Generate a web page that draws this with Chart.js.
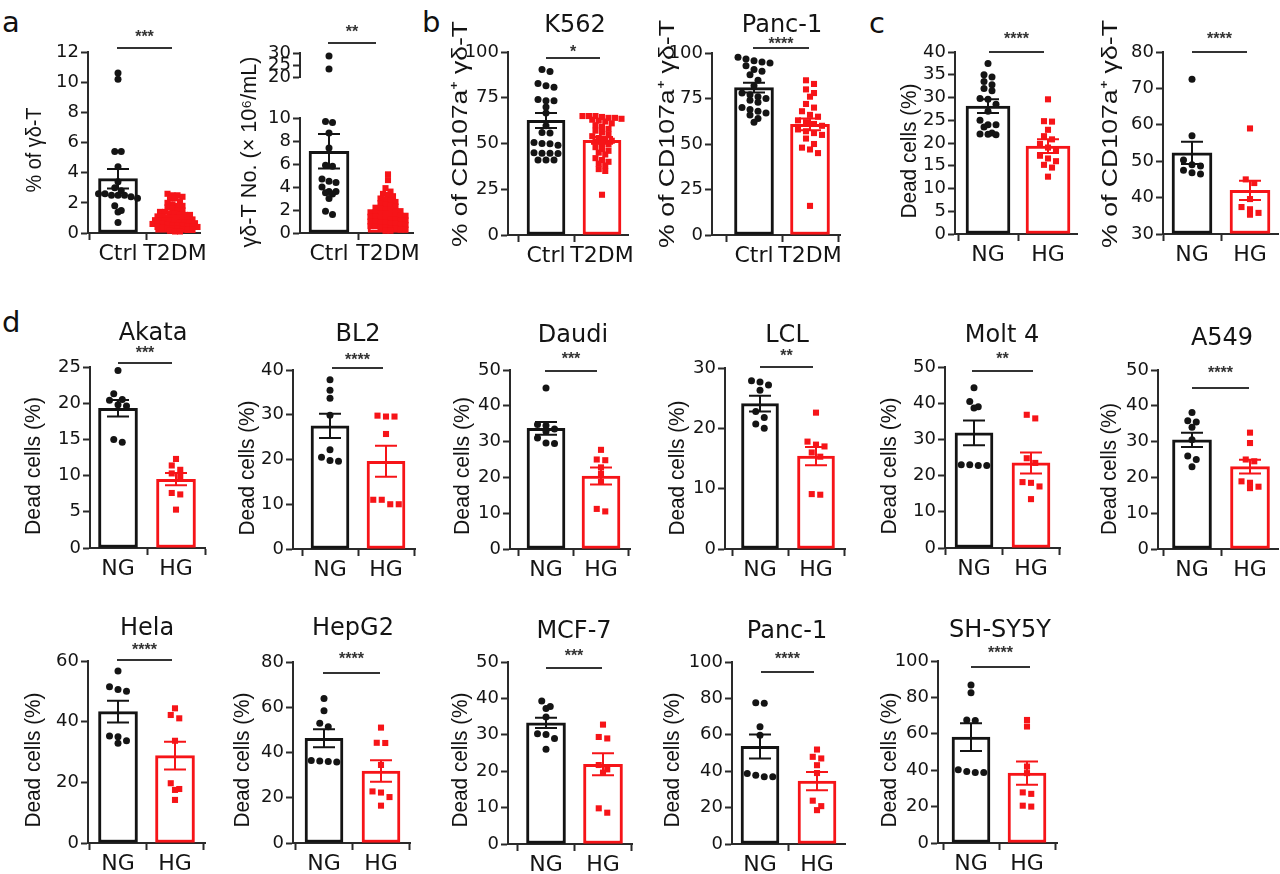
<!DOCTYPE html>
<html lang="en">
<head>
<meta charset="UTF-8">
<title>γδ-T cells and high glucose</title>
<script src="https://cdn.jsdelivr.net/npm/chart.js@4.4.1/dist/chart.umd.min.js"></script>
<style>
  body { margin: 0; background: #fff; }
  #fig { position: relative; width: 1280px; height: 874px; overflow: hidden; }
  #fig canvas { position: absolute; }
  .tag { position: absolute; font: 29px/1 "DejaVu Sans", sans-serif; color: #111; }
</style>
</head>
<body>
<div id="fig">
  <div class="tag" style="left:2px;top:8px">a</div>
  <div class="tag" style="left:422px;top:8px">b</div>
  <div class="tag" style="left:869px;top:9px">c</div>
  <div class="tag" style="left:2px;top:308px">d</div>
</div>
<script>
// ---- values ----
const catsTD = ['Ctrl', 'T2DM'];
const catsHG = ['NG', 'HG'];

// a: % of γδ-T / γδ-T count
const aPctCtrl = [10.6, 10.2, 5.4, 5.4, 4.4, 3.4, 3.0, 2.8, 2.6, 2.6, 2.5, 2.5, 2.5, 2.4, 2.3, 1.8, 1.5, 1.4, 0.7];
const aPctT2dm = [2.6, 2.5, 2.5, 2.4, 2.3, 2.3, 2.1, 2.0, 1.9, 1.8, 1.8, 1.7, 1.6, 1.5, 1.5, 1.4, 1.4, 1.3, 1.3, 1.2,
                  1.2, 1.2, 1.1, 1.1, 1.0, 1.0, 1.0, 0.95, 0.9, 0.9, 0.85, 0.8, 0.8, 0.8, 0.75, 0.7, 0.7, 0.7, 0.65, 0.6,
                  0.6, 0.6, 0.55, 0.5, 0.5, 0.5, 0.45, 0.4, 0.4, 0.4, 0.35, 0.3, 0.3, 0.3, 0.25, 0.2, 0.2, 0.15, 0.1, 0.1];
const aPctMean = [3.6, 1.05];
const aPctSem = [0.65, 0.08];

const aNumCtrl = [28.8, 23.4, 9.7, 9.6, 8.7, 7.4, 5.9, 5.8, 4.7, 4.5, 4.4, 4.0, 3.6, 3.6, 3.5, 3.4, 3.0, 1.9, 1.6];
const aNumT2dm = [5.1, 4.6, 3.9, 3.6, 3.4, 3.3, 3.2, 3.0, 2.9, 2.8, 2.7, 2.6, 2.5, 2.4, 2.3, 2.2, 2.1, 2.0, 2.0, 1.9,
                  1.9, 1.8, 1.8, 1.7, 1.7, 1.6, 1.6, 1.5, 1.5, 1.4, 1.4, 1.3, 1.3, 1.2, 1.2, 1.1, 1.1, 1.0, 1.0, 0.9,
                  0.9, 0.8, 0.8, 0.7, 0.7, 0.6, 0.6, 0.5, 0.5, 0.4, 0.4, 0.3, 0.3, 0.2, 0.2];
const aNumMean = [7.1, 1.7];
const aNumSem = [1.5, 0.15];

// b: CD107a+ γδ-T against K562 / Panc-1
const bK562Ctrl = [90.4, 89.4, 82.8, 81.5, 80.8, 74, 73.4, 73.4, 70, 66.6, 59.7, 56, 55.7, 50.5, 50, 49.8, 49, 45, 44.7, 44.7, 44.5, 41, 41, 41];
const bK562T2dm = [65, 65, 65, 64.5, 64, 64, 63.5, 63, 62.5, 62, 61, 60, 59, 58, 57, 56, 55, 54, 53, 52, 51.5, 51, 50, 49.5,
                   48, 47, 46, 45, 44, 42, 41, 40, 39, 38, 36, 35, 22];
const bK562Mean = [62.6, 51.7];
const bK562Sem = [4.1, 1.8];

const bPancCtrl = [97.6, 96.7, 95.8, 95, 94.5, 93, 91, 90, 88, 85, 82, 78, 77, 76, 75, 74, 73, 70, 69, 68, 67, 66, 64, 62];
const bPancT2dm = [85, 83, 80, 78, 76, 72, 70, 68, 66, 65, 63, 62, 61, 60, 58, 57, 56, 55, 53, 50, 48, 47, 45, 16];
const bPancMean = [81, 60.8];
const bPancSem = [2.7, 3.2];

// c: NG vs HG
const cDeadNG = [37.5, 35, 34.5, 33.5, 32.8, 32, 31.5, 29.8, 29.6, 28.5, 27, 25, 24, 24, 23.5, 22.2, 22, 21.9, 21.8];
const cDeadHG = [29.6, 24.8, 24.7, 22.9, 21.5, 20.8, 19.8, 19, 18.6, 17.2, 16.6, 16, 15.2, 14.6, 12.6];
const cDeadMean = [28.1, 19.3];
const cDeadSem = [1.5, 1.5];
const cCdNG = [72.5, 57, 50.3, 49, 48.7, 47.5, 46.8, 46.5];
const cCdHG = [59, 45, 44, 39.6, 37.4, 36.8, 35.8, 35.3];
const cCdMean = [52.3, 42];
const cCdSem = [3.05, 2.65];

// d: dead target cells per line
const dLines = ['Akata', 'BL2', 'Daudi', 'LCL', 'Molt 4', 'A549', 'Hela', 'HepG2', 'MCF-7', 'Panc-1', 'SH-SY5Y'];
const akataNG = [24.5, 21.3, 20.5, 20.4, 19.8, 19.6, 15, 14.6];
const akataHG = [12.3, 11.4, 10.8, 10.3, 9.9, 7.6, 7.4, 5.3];
const bl2NG = [37.8, 35.5, 33.7, 29.9, 22.2, 20.5, 19.8, 19.6];
const bl2HG = [29.8, 29.6, 29.6, 25.7, 11, 10, 10, 11];
const daudiNG = [45, 34.8, 34.5, 33.5, 32.8, 31, 29.6, 29.5];
const daudiHG = [27.7, 25, 24.8, 22.8, 21, 18.8, 11.2, 10.5];
const lclNG = [27.9, 27.7, 27.2, 26.3, 22.8, 21.8, 20.7, 20.0];
const lclHG = [22.6, 17.8, 17.3, 17, 16, 15.3, 9.1, 9.0];
const molt4NG = [44.3, 40.5, 39, 38.7, 23, 22.8, 22.8, 23];
const molt4HG = [36.8, 35.8, 24.8, 23.5, 18.2, 18, 17, 13.5];
const a549NG = [38.1, 35.8, 35.5, 34, 30.5, 26, 25, 23];
const a549HG = [32.5, 29.6, 25, 24.5, 18.9, 18.5, 17.4, 17];
const helaNG = [56.7, 51.5, 50.6, 50, 35.3, 35, 33.7, 32.9];
const helaHG = [44.4, 42.2, 41.1, 33.7, 19.7, 17.8, 17.5, 14.2];
const hepg2NG = [63.9, 58.4, 52.9, 51.4, 36.5, 36.2, 36, 35.8];
const hepg2HG = [51, 44.3, 44.2, 34.5, 22.8, 22.3, 20.3, 16.5];
const mcf7NG = [39.3, 37.8, 37.2, 34.9, 30.3, 30.1, 29, 26];
const mcf7HG = [32.8, 29.4, 29, 21.7, 20.5, 19.6, 9.8, 8.6];
const pancNG = [77.6, 77.4, 64.4, 59.8, 38.8, 37.8, 36.9, 36.9];
const pancHG = [51.9, 47.9, 47, 43.3, 39, 23.8, 20.8, 18.6];
const shsyNG = [86.8, 82.6, 67.6, 67.3, 40.2, 39.3, 38.8, 38.8];
const shsyHG = [67.6, 64, 42, 38.4, 27.8, 27, 20.5, 20];
const dMeanNG = [19.3, 27.5, 33.7, 24.1, 31.8, 30.5, 43.3, 46.3, 33.3, 53.6, 58.2];
const dMeanHG = [9.5, 19.6, 20.4, 15.4, 23.5, 23.0, 28.8, 31.8, 21.9, 34.6, 38.4];
const dSemNG = [1.15, 2.7, 1.8, 1.3, 3.4, 2.0, 3.6, 4.0, 1.4, 6.6, 7.6];
const dSemHG = [0.85, 3.45, 2.4, 1.5, 2.9, 1.9, 4.55, 4.75, 3.0, 5.0, 6.4];
const dMax = [25, 40, 50, 30, 50, 50, 60, 80, 50, 100, 100];
const dStep = [5, 10, 10, 10, 10, 10, 20, 20, 10, 20, 20];
const dStars = ['***', '****', '***', '**', '**', '****', '****', '****', '***', '****', '****'];

const yPct = '% of γδ-T';
const yNum = 'γδ-T No. (× 10⁶/mL)';
const yCd = '% of CD107a⁺ γδ-T';
const yDead = 'Dead cells (%)';

// ---- drawing ----
const INK = '#141414';
const AXIS = '#2a2a2a';
const RED = 'rgb(246,20,24)';
const PADL = 80, PADT = 62, PADB = 38, PADR = 10;
const fig = document.getElementById('fig');

Chart.defaults.font.family = '"DejaVu Sans", sans-serif';
Chart.defaults.color = INK;

// spread points of one group sideways in rows, like a Prism dot plot
function spread(chart, ds, g, gap, maxW) {
  const xs = chart.scales.x, ys = chart.scales.y;
  const cx = xs.getPixelForValue(g);
  const pts = chart.data.datasets[ds].data.slice().sort((a, b) => b.y - a.y);
  const perRow = Math.floor(maxW / gap) + 1;
  const rows = [];
  let row = [];
  pts.forEach(pt => {
    const py = ys.getPixelForValue(pt.y);
    if (row.length && (py - row[0].py > gap * 0.75 || row.length >= perRow)) {
      rows.push(row);
      row = [];
    }
    row.push({ pt, py });
  });
  if (row.length) rows.push(row);
  rows.forEach(r => r.forEach((o, j) => {
    o.pt.x = xs.getValueForPixel(cx + (j - (r.length - 1) / 2) * gap);
  }));
}

function decoPlugin(p, left, top) {
  return {
    id: 'deco',
    afterDatasetsDraw(chart) {
      const ctx = chart.ctx, xs = chart.scales.x, ys = chart.scales.y;
      ctx.save();
      // mean ± SEM
      if (p.mean) {
        p.mean.forEach((m, g) => {
          const x = xs.getPixelForValue(g);
          const y1 = ys.getPixelForValue(m + p.sem[g]);
          const y2 = ys.getPixelForValue(m - p.sem[g]);
          ctx.strokeStyle = g ? RED : INK;
          ctx.lineWidth = 2;
          ctx.beginPath();
          ctx.moveTo(x, y1); ctx.lineTo(x, y2);
          ctx.moveTo(x - 11, y1); ctx.lineTo(x + 11, y1);
          ctx.moveTo(x - 11, y2); ctx.lineTo(x + 11, y2);
          ctx.stroke();
        });
      }
      // significance bar
      if (p.sig) {
        const [stars, x0, x1, y, sy] = p.sig;
        ctx.strokeStyle = '#333';
        ctx.lineWidth = 2;
        ctx.beginPath();
        ctx.moveTo(x0 - left, y - top);
        ctx.lineTo(x1 - left, y - top);
        ctx.stroke();
        ctx.fillStyle = '#333';
        ctx.font = 'bold 16px "Liberation Sans", Arial, sans-serif';
        ctx.textAlign = 'center';
        ctx.textBaseline = 'alphabetic';
        ctx.fillText(stars, (x0 + x1) / 2 - left, sy + 9 - top);
      }
      // panel title
      if (p.title) {
        ctx.fillStyle = INK;
        ctx.font = '24px "DejaVu Sans", sans-serif';
        ctx.textAlign = 'center';
        ctx.textBaseline = 'alphabetic';
        ctx.fillText(p.title[0], p.title[1] - left, p.title[2] - top);
      }
      // y-axis title
      if (p.yt) {
        const [text, cx, cy, len] = p.yt;
        ctx.fillStyle = INK;
        ctx.font = '22px "Liberation Sans", Arial, sans-serif';
        ctx.translate(cx - left, cy - top);
        ctx.rotate(-Math.PI / 2);
        const w = ctx.measureText(text).width;
        ctx.scale(len / w, 1);
        ctx.textAlign = 'center';
        ctx.textBaseline = 'middle';
        ctx.fillText(text, 0, 0);
      }
      ctx.restore();
    }
  };
}

function drawPanel(p) {
  const showX = p.showX !== false;
  const left = p.ax - PADL, top = p.top - PADT;
  const w = p.right - p.ax + PADL + PADR;
  const h = p.bot - p.top + PADT + (showX ? PADB : 4);
  const cv = document.createElement('canvas');
  cv.width = w; cv.height = h;
  cv.style.left = left + 'px';
  cv.style.top = top + 'px';
  fig.appendChild(cv);

  const unit = p.c1 - p.c0;
  const xMin = -(p.c0 - p.ax) / unit;
  const xMax = (p.right - p.c0) / unit;

  const datasets = [
    { type: 'scatter', data: p.pts[0].map(v => ({ x: 0, y: v })), pointStyle: 'circle', pointRadius: 3.5,
      pointHoverRadius: 3.5, pointBackgroundColor: INK, pointBorderWidth: 0, order: 1, clip: false },
    { type: 'scatter', data: p.pts[1].map(v => ({ x: 1, y: v })), pointStyle: 'rect', pointRadius: 4.3,
      pointHoverRadius: 4.3, pointBackgroundColor: RED, pointBorderWidth: 0, order: 1, clip: false }
  ];
  if (p.mean) {
    datasets.push({ type: 'bar', data: p.mean.map((m, g) => ({ x: g, y: m })), backgroundColor: '#fff',
      borderColor: [INK, RED], borderWidth: 3, borderSkipped: false, barThickness: p.bw, base: p.min, order: 2 });
  }

  const chart = new Chart(cv, {
    type: 'bar',
    data: { datasets },
    options: {
      responsive: false,
      animation: false,
      events: [],
      layout: { autoPadding: false, padding: { left: 0, top: PADT, right: PADR, bottom: showX ? 0 : 4 } },
      plugins: { legend: { display: false }, tooltip: { enabled: false } },
      scales: {
        x: {
          type: 'linear', min: xMin, max: xMax, offset: false, display: showX,
          afterBuildTicks: s => { s.ticks = [{ value: 0 }, { value: 1 }]; },
          afterFit: s => { if (showX) s.height = PADB; },
          ticks: { callback: v => p.cats[v], font: { size: 22 }, padding: 1, maxRotation: 0, autoSkip: false, color: INK },
          grid: { drawOnChartArea: false, drawTicks: true, tickLength: 7, tickWidth: 2, tickColor: AXIS },
          border: { display: true, width: 2, color: AXIS }
        },
        y: {
          min: p.min, max: p.max,
          afterFit: s => { s.width = PADL; },
          ticks: { stepSize: p.step, font: { size: 18 }, padding: 2, autoSkip: false, color: INK },
          grid: { drawOnChartArea: false, drawTicks: true, tickLength: 7, tickWidth: 2, tickColor: AXIS },
          border: { display: true, width: 2, color: AXIS }
        }
      }
    },
    plugins: [decoPlugin(p, left, top)]
  });

  spread(chart, 0, 0, p.gap[0], p.bw + 6);
  spread(chart, 1, 1, p.gap[1], p.bw + 6);
  chart.update('none');
}

const panels = [
  { ax: 88, top: 52, bot: 233, right: 200, c0: 118, c1: 175, bw: 39, min: 0, max: 12, step: 2,
    cats: catsTD, pts: [aPctCtrl, aPctT2dm], mean: aPctMean, sem: aPctSem, gap: [6.5, 5],
    yt: [yPct, 35, 150, 85], sig: ['***', 117, 172, 48, 33] },
  { ax: 300, top: 53, bot: 86, right: 413, c0: 329, c1: 388, bw: 40, min: 20, max: 30, step: 5, showX: false,
    cats: catsTD, pts: [aNumCtrl.filter(v => v >= 20), aNumT2dm.filter(v => v >= 20)], gap: [7, 5],
    sig: ['**', 328, 376, 43, 28] },
  { ax: 300, top: 118, bot: 233, right: 413, c0: 329, c1: 388, bw: 40, min: 0, max: 10, step: 2,
    cats: catsTD, pts: [aNumCtrl.filter(v => v <= 10), aNumT2dm.filter(v => v <= 10)], mean: aNumMean, sem: aNumSem,
    gap: [7, 5], yt: [yNum, 250, 152, 191] },
  { ax: 508, top: 52, bot: 235, right: 628, c0: 546, c1: 602, bw: 38, min: 0, max: 100, step: 25,
    cats: catsTD, pts: [bK562Ctrl, bK562T2dm], mean: bK562Mean, sem: bK562Sem, gap: [8, 6.5],
    title: ['K562', 575, 32], yt: [yCd, 461, 134, 226], sig: ['*', 546, 600, 58, 48] },
  { ax: 712, top: 53, bot: 235, right: 840, c0: 754, c1: 810, bw: 39, min: 0, max: 100, step: 25,
    cats: catsTD, pts: [bPancCtrl, bPancT2dm], mean: bPancMean, sem: bPancSem, gap: [8, 8],
    title: ['Panc-1', 782, 32], yt: [yCd, 668, 134, 228], sig: ['****', 753, 809, 48, 40] },
  { ax: 955, top: 52, bot: 234, right: 1077, c0: 988, c1: 1048, bw: 44, min: 0, max: 40, step: 5,
    cats: catsHG, pts: [cDeadNG, cDeadHG], mean: cDeadMean, sem: cDeadSem, gap: [8, 8],
    yt: [yDead, 910, 151, 135], sig: ['****', 989, 1044, 52, 35] },
  { ax: 1163, top: 52, bot: 234, right: 1278, c0: 1192, c1: 1250, bw: 40, min: 30, max: 80, step: 10,
    cats: catsHG, pts: [cCdNG, cCdHG], mean: cCdMean, sem: cCdSem, gap: [8.5, 8.5],
    yt: [yCd, 1111, 134, 228], sig: ['****', 1192, 1247, 52, 35] }
];

const dPtsNG = [akataNG, bl2NG, daudiNG, lclNG, molt4NG, a549NG, helaNG, hepg2NG, mcf7NG, pancNG, shsyNG];
const dPtsHG = [akataHG, bl2HG, daudiHG, lclHG, molt4HG, a549HG, helaHG, hepg2HG, mcf7HG, pancHG, shsyHG];

// where each panel of d sits on the page
const dBoxes = [
  { ax: 90, top: 367, bot: 548, right: 205, c0: 118, c1: 176, bw: 39, t: [153, 340], yt: [34, 466, 138], sig: [118, 172, 363, 349] },
  { ax: 293, top: 370, bot: 549, right: 415, c0: 330, c1: 386, bw: 38, t: [358, 341], yt: [248, 468, 135], sig: [332, 383, 368, 356] },
  { ax: 510, top: 370, bot: 549, right: 630, c0: 546, c1: 601, bw: 38, t: [573, 342], yt: [463, 466, 138], sig: [545, 597, 371, 355] },
  { ax: 725, top: 368, bot: 549, right: 845, c0: 760, c1: 816, bw: 37, t: [787, 342], yt: [678, 468, 135], sig: [760, 813, 367, 352] },
  { ax: 945, top: 367, bot: 548, right: 1060, c0: 974, c1: 1031, bw: 38, t: [1002, 342], yt: [890, 466, 137], sig: [972, 1033, 371, 355] },
  { ax: 1158, top: 370, bot: 549, right: 1278, c0: 1192, c1: 1250, bw: 39, t: [1222, 345], yt: [1110, 469, 132], sig: [1192, 1249, 388, 369] },
  { ax: 88, top: 661, bot: 843, right: 205, c0: 118, c1: 175, bw: 39, t: [147, 635], yt: [34, 760, 135], sig: [117, 172, 660, 646] },
  { ax: 293, top: 662, bot: 843, right: 410, c0: 324, c1: 381, bw: 38, t: [353, 635], yt: [243, 760, 135], sig: [323, 380, 673, 655] },
  { ax: 508, top: 662, bot: 844, right: 632, c0: 546, c1: 603, bw: 39, t: [574, 638], yt: [461, 760, 135], sig: [546, 602, 668, 652] },
  { ax: 732, top: 662, bot: 844, right: 845, c0: 760, c1: 817, bw: 38, t: [787, 638], yt: [673, 760, 135], sig: [761, 814, 672, 655] },
  { ax: 938, top: 661, bot: 843, right: 1057, c0: 971, c1: 1027, bw: 38, t: [1000, 637], yt: [890, 760, 135], sig: [971, 1030, 667, 649] }
];

dLines.forEach((name, i) => {
  const b = dBoxes[i];
  panels.push({
    ax: b.ax, top: b.top, bot: b.bot, right: b.right, c0: b.c0, c1: b.c1, bw: b.bw,
    min: 0, max: dMax[i], step: dStep[i], cats: catsHG,
    pts: [dPtsNG[i], dPtsHG[i]], mean: [dMeanNG[i], dMeanHG[i]], sem: [dSemNG[i], dSemHG[i]], gap: [8.5, 8.5],
    title: [name, b.t[0], b.t[1]], yt: [yDead, b.yt[0], b.yt[1], b.yt[2]],
    sig: [dStars[i], b.sig[0], b.sig[1], b.sig[2], b.sig[3]]
  });
});

panels.forEach(drawPanel);
</script>
</body>
</html>
